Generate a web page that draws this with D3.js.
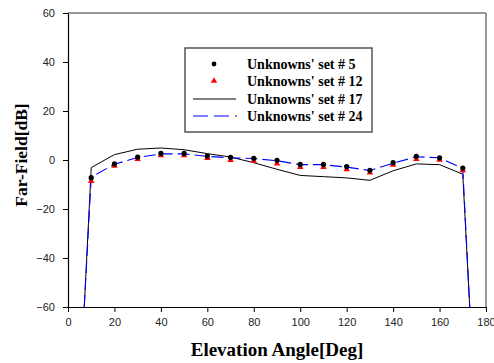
<!DOCTYPE html>
<html><head><meta charset="utf-8">
<script src="https://cdn.jsdelivr.net/npm/d3@7"></script>
<style>body{margin:0;background:#fff}svg{display:block}</style>
</head><body>
<svg id="c" width="494" height="363"></svg>
<script>
const angles = [10,20,30,40,50,60,70,80,90,100,110,120,130,140,150,160,170];
const set5  = [-7.2,-1.6,1.2,2.7,2.7,1.6,1.1,0.7,-0.1,-1.8,-1.8,-2.7,-4.2,-1.1,1.5,0.9,-3.3];
const set12 = [-8.6,-2.4,0.4,1.9,1.9,0.8,-0.1,-0.4,-1.5,-2.9,-2.9,-3.8,-5.2,-2.0,0.4,0.0,-4.2];
const lineAngles = [7,10,20,30,40,50,60,70,80,90,100,110,120,130,140,150,160,170,173];
const set17 = [-60,-3.1,2.2,4.4,4.9,4.2,2.6,1.2,-1.1,-3.8,-6.3,-6.8,-7.3,-8.3,-4.4,-1.6,-1.9,-5.8,-60];
const set24 = [-60,-7.0,-1.7,1.0,2.5,2.5,1.5,0.9,0.6,-0.3,-1.9,-1.9,-2.9,-4.3,-1.3,1.3,0.9,-3.5,-60];
const xTicks = [0,20,40,60,80,100,120,140,160,180];
const yTicks = [-60,-40,-20,0,20,40,60];
const legendLabels = ["Unknowns' set # 5","Unknowns' set # 12","Unknowns' set # 17","Unknowns' set # 24"];

const svg = d3.select("#c");
const L=68,R=486,T=13,B=307;
const x = d3.scaleLinear().domain([0,180]).range([L,R]);
const y = d3.scaleLinear().domain([-60,60]).range([B,T]);

svg.append("line").attr("x1",L).attr("x2",R).attr("y1",T).attr("y2",T).attr("stroke","#777").attr("stroke-width",1.5);
svg.append("line").attr("x1",R).attr("x2",R).attr("y1",T).attr("y2",B).attr("stroke","#777").attr("stroke-width",1.5);

const xa = svg.append("g").attr("transform",`translate(0,${B})`)
  .call(d3.axisBottom(x).tickValues(xTicks).tickSize(5).tickSizeOuter(0).tickPadding(6));
const ya = svg.append("g").attr("transform",`translate(${L},0)`)
  .call(d3.axisLeft(y).tickValues(yTicks).tickSize(5).tickSizeOuter(0).tickPadding(8));
[xa,ya].forEach(a=>{
  a.selectAll("text").attr("font-family","Liberation Sans, Arial, sans-serif").attr("font-size",11).attr("fill","#222");
  a.select(".domain").attr("stroke","#000").attr("stroke-width",1.2);
  a.selectAll(".tick line").attr("stroke","#000");
});

svg.append("clipPath").attr("id","pc").append("rect").attr("x",L).attr("y",T).attr("width",R-L).attr("height",B-T);
const g = svg.append("g").attr("clip-path","url(#pc)");

const line = d3.line().x((d,i)=>x(lineAngles[i])).y(d=>y(d));
g.append("path").datum(set17).attr("d",line).attr("fill","none").attr("stroke","#000").attr("stroke-width",1);
g.append("path").datum(set24).attr("d",line).attr("fill","none").attr("stroke","#0000ff").attr("stroke-width",1.1).attr("stroke-dasharray","12,5");

const tri = d3.symbol().type(d3.symbolTriangle).size(18);
g.selectAll(".t").data(set12).join("path").attr("d",tri)
  .attr("transform",(d,i)=>`translate(${x(angles[i])},${y(d)})`).attr("fill","#ff0000");
g.selectAll(".c").data(set5).join("circle")
  .attr("cx",(d,i)=>x(angles[i])).attr("cy",d=>y(d)).attr("r",2.6).attr("fill","#000");

const lg = svg.append("g");
lg.append("rect").attr("x",185).attr("y",48).attr("width",187).attr("height",84).attr("fill","#fff").attr("stroke","#555").attr("stroke-width",1.5);
const rows=[64,81,99,116];
lg.append("circle").attr("cx",214).attr("cy",rows[0]).attr("r",2.4).attr("fill","#000");
lg.append("path").attr("d",tri).attr("transform",`translate(214,${rows[1]})`).attr("fill","#ff0000");
lg.append("line").attr("x1",193).attr("x2",236).attr("y1",rows[2]).attr("y2",rows[2]).attr("stroke","#000");
lg.append("line").attr("x1",193).attr("x2",237).attr("y1",rows[3]).attr("y2",rows[3]).attr("stroke","#0000ff").attr("stroke-dasharray","15,6");
lg.selectAll(".lt").data(legendLabels).join("text")
  .attr("x",247).attr("y",(d,i)=>rows[i]+5).text(d=>d)
  .attr("font-family","Liberation Serif, Times New Roman, serif").attr("font-weight","bold").attr("font-size",14).attr("fill","#000");

svg.append("text").attr("x",277).attr("y",356).attr("text-anchor","middle")
  .attr("font-family","Liberation Serif, Times New Roman, serif").attr("font-weight","bold").attr("font-size",19).text("Elevation Angle[Deg]");
svg.append("text").attr("transform",`translate(27,155) rotate(-90)`).attr("text-anchor","middle")
  .attr("font-family","Liberation Serif, Times New Roman, serif").attr("font-weight","bold").attr("font-size",17.5).text("Far-Field[dB]");
</script>
</body></html>
